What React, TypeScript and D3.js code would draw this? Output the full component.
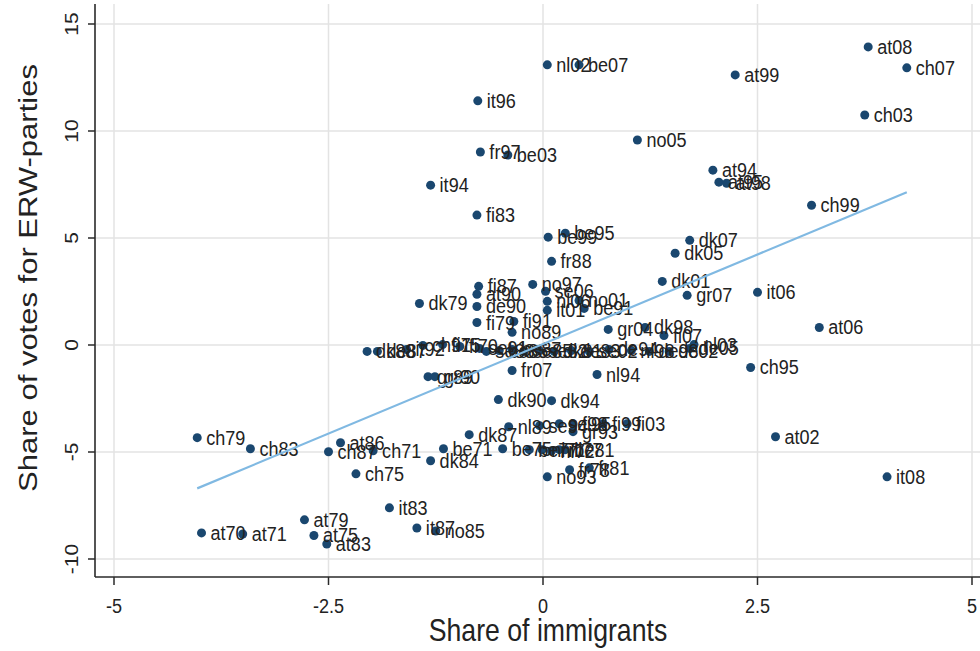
import React from "react";
import * as d3 from "d3";

const labels: string[] = [
  "at08","ch07","nl02","be07","at99","it96","ch03","no05","fr97","be03",
  "it94","at94","at95","at98","ch99","fi83","be95","be99","dk07","dk05",
  "fr88","dk01","it06","gr07","at06","ch95","at02","it08","fi87","at90",
  "dk79","de90","no97","se06","nl06","it01","no01","be91","fi79","fi91",
  "no89","gr04","dk98","fi07","nl03","dk88","de87","it92","ch91","fi75",
  "fi70","se91","se88","be85","be87","se85","se82","dk81","de83","se02",
  "de94","nl98","de98","de02","de05","fr07","nl94","gr89","gr90","dk90",
  "dk94","dk87","nl89","se94","se98","fi95","fi99","fi03","gr93","be71",
  "dk84","be75","be77","nl71","nl72","nl77","be81","fr78","fr81","no93",
  "ch79","ch83","at86","ch87","ch71","ch75","it83","it87","no85","at70",
  "at71","at79","at75","at83",
];

const immigrantShare: number[] = [
  3.79, 4.24, 0.05, 0.42, 2.24, -0.76, 3.75, 1.10, -0.73, -0.41,
  -1.31, 1.98, 2.05, 2.14, 3.13, -0.77, 0.26, 0.06, 1.71, 1.54,
  0.10, 1.39, 2.50, 1.68, 3.22, 2.42, 2.71, 4.01, -0.75, -0.77,
  -1.44, -0.77, -0.12, 0.03, 0.05, 0.05, 0.42, 0.48, -0.77, -0.34,
  -0.36, 0.76, 1.19, 1.41, 1.76, -2.05, -1.93, -1.59, -1.40, -1.17,
  -0.97, -0.74, -0.66, -0.51, -0.36, -0.22, -0.04, 0.13, 0.33, 0.54,
  0.77, 1.03, 1.24, 1.47, 1.71, -0.36, 0.63, -1.34, -1.26, -0.52,
  0.10, -0.86, -0.40, -0.04, 0.19, 0.35, 0.70, 0.98, 0.35, -1.16,
  -1.31, -0.47, -0.16, -0.01, 0.10, 0.19, 0.26, 0.31, 0.54, 0.05,
  -4.03, -3.41, -2.36, -2.50, -1.98, -2.18, -1.79, -1.47, -1.25, -3.98,
  -3.50, -2.78, -2.67, -2.52,
];

const erwVoteShare: number[] = [
  13.93, 12.95, 13.09, 13.09, 12.62, 11.41, 10.75, 9.58, 9.02, 8.88,
  7.47, 8.17, 7.61, 7.56, 6.53, 6.07, 5.22, 5.04, 4.89, 4.29,
  3.91, 2.97, 2.46, 2.32, 0.82, -1.05, -4.29, -6.16, 2.74, 2.37,
  1.94, 1.80, 2.83, 2.51, 2.04, 1.62, 2.08, 1.71, 1.05, 1.10,
  0.59, 0.73, 0.82, 0.44, 0.02, -0.30, -0.30, -0.21, -0.02, 0.02,
  -0.07, -0.16, -0.30, -0.26, -0.21, -0.30, -0.26, -0.30, -0.26, -0.30,
  -0.21, -0.26, -0.30, -0.30, -0.16, -1.19, -1.38, -1.48, -1.48, -2.55,
  -2.60, -4.19, -3.82, -3.77, -3.68, -3.68, -3.68, -3.68, -4.05, -4.85,
  -5.41, -4.85, -4.89, -4.89, -4.94, -4.89, -4.89, -5.83, -5.74, -6.16,
  -4.33, -4.85, -4.57, -4.99, -4.94, -6.02, -7.61, -8.55, -8.69, -8.78,
  -8.83, -8.17, -8.90, -9.30,
];

const fitX: number[] = [-4.03, 4.24];
const fitY: number[] = [-6.7, 7.14];

const xTicks: number[] = [-5, -2.5, 0, 2.5, 5];
const yTicks: number[] = [-10, -5, 0, 5, 10, 15];

const W = 980;
const H = 651;
const SX = 0.86;
const FONT = "'Liberation Sans', Arial, Helvetica, sans-serif";

export default function App() {
  const x = d3.scaleLinear().domain([-5, 5]).range([114, 972]);
  const y = d3.scaleLinear().domain([-10, 15]).range([559, 24]);
  const left = 95;
  const bottom = 577;
  const top = 4;
  const right = W;

  const line = d3
    .line<number>()
    .x((_, i) => x(fitX[i]))
    .y((_, i) => y(fitY[i]));

  const xFmt = (v: number) => (Number.isInteger(v) ? String(v) : String(v));

  return (
    <div style={{ position: "absolute", left: 0, top: 0 }}>
      <svg width={W} height={H} style={{ display: "block", background: "#ffffff" }}>
        <rect x={0} y={0} width={W} height={H} fill="#ffffff" />
        {/* grid */}
        {yTicks.map((t) => (
          <line key={"gy" + t} x1={left} x2={right} y1={y(t)} y2={y(t)} stroke="#e3e3e3" strokeWidth={1.5} />
        ))}
        {xTicks.map((t) => (
          <line key={"gx" + t} x1={x(t)} x2={x(t)} y1={top} y2={bottom} stroke="#e3e3e3" strokeWidth={1.5} />
        ))}
        {/* axes */}
        <line x1={left} x2={left} y1={top} y2={bottom} stroke="#2a2a2a" strokeWidth={1.6} />
        <line x1={left} x2={right} y1={bottom} y2={bottom} stroke="#2a2a2a" strokeWidth={1.6} />
        {yTicks.map((t) => (
          <g key={"ty" + t}>
            <line x1={left - 7} x2={left} y1={y(t)} y2={y(t)} stroke="#2a2a2a" strokeWidth={1.5} />
            <text
              transform={`translate(78,${y(t)}) scale(${SX},1) rotate(-90)`}
              textAnchor="middle"
              fontFamily={FONT}
              fontSize={21}
              fill="#222"
            >
              {t}
            </text>
          </g>
        ))}
        {xTicks.map((t) => (
          <g key={"tx" + t}>
            <line x1={x(t)} x2={x(t)} y1={bottom} y2={bottom + 8} stroke="#2a2a2a" strokeWidth={1.5} />
            <text
              transform={`translate(${x(t)},613) scale(${SX},1)`}
              textAnchor="middle"
              fontFamily={FONT}
              fontSize={21}
              fill="#222"
            >
              {xFmt(t)}
            </text>
          </g>
        ))}
        {/* axis titles */}
        <text
          transform={`translate(548,641) scale(${SX},1)`}
          textAnchor="middle"
          fontFamily={FONT}
          fontSize={31}
          fill="#222"
        >
          Share of immigrants
        </text>
        <text
          transform={`translate(37,278) scale(${SX},1) rotate(-90)`}
          textAnchor="middle"
          fontFamily={FONT}
          fontSize={31}
          fill="#222"
        >
          Share of votes for ERW-parties
        </text>
        {/* points */}
        {labels.map((lab, i) => (
          <circle key={"p" + i} cx={x(immigrantShare[i])} cy={y(erwVoteShare[i])} r={4.5} fill="#1a476f" />
        ))}
        {labels.map((lab, i) => (
          <text
            key={"l" + i}
            transform={`translate(${x(immigrantShare[i]) + 9},${y(erwVoteShare[i]) + 7}) scale(${SX},1)`}
            fontFamily={FONT}
            fontSize={21}
            fill="#222"
          >
            {lab}
          </text>
        ))}
        {/* fit line */}
        <path d={line(fitX) || ""} fill="none" stroke="#80b9e2" strokeWidth={2.2} />
      </svg>
    </div>
  );
}
